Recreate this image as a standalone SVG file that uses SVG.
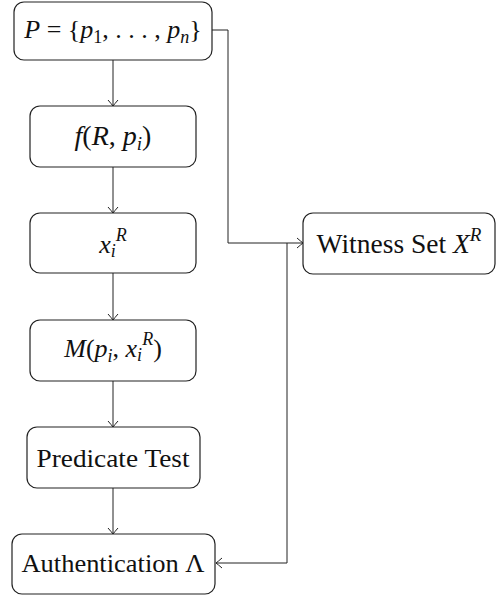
<svg xmlns="http://www.w3.org/2000/svg" width="497" height="598" viewBox="0 0 497 598">
<style>
.box{fill:#fff;stroke:#222;stroke-width:1.2}
.t{font-family:'Liberation Serif','DejaVu Serif',serif;font-size:26px;fill:#111;text-anchor:middle}
.i{font-style:italic}
.c{fill:none;stroke:#222;stroke-width:1}
</style>
<defs>
<marker id="ar" markerUnits="userSpaceOnUse" markerWidth="14" markerHeight="14" viewBox="-8 -7 10 14" refX="0" refY="0" orient="auto">
<path d="M-6,-5 Q-2,-1.5 0,0 Q-2,1.5 -6,5" fill="none" stroke="#222" stroke-width="1"/>
</marker>
</defs>
<g id="connectors">
<path class="c" d="M113,60 V106" marker-end="url(#ar)"/>
<path class="c" d="M113,167 V213" marker-end="url(#ar)"/>
<path class="c" d="M113,273 V320" marker-end="url(#ar)"/>
<path class="c" d="M113,381 V427" marker-end="url(#ar)"/>
<path class="c" d="M113,488 V534" marker-end="url(#ar)"/>
<path class="c" d="M212,30 H228 V243 H303" marker-end="url(#ar)"/>
<path class="c" d="M287,243 V563 H216" marker-end="url(#ar)"/>
</g>
<g id="nodeP">
<rect class="box" x="14" y="2" width="198" height="58" rx="10"/>
<text class="t" x="113" y="38"><tspan class="i">P</tspan> = {<tspan class="i">p</tspan><tspan font-size="18" dy="5">1</tspan><tspan dy="-5">, . . . , </tspan><tspan class="i">p</tspan><tspan class="i" font-size="18" dy="5">n</tspan><tspan dy="-5">}</tspan></text>
</g>
<g id="nodeF">
<rect class="box" x="30" y="106" width="166" height="61" rx="10"/>
<text class="t" x="113" y="145" font-size="28" style="font-size:28px"><tspan class="i">f</tspan>(<tspan class="i">R</tspan>, <tspan class="i">p</tspan><tspan class="i" font-size="19" style="font-size:19px" dy="5">i</tspan><tspan dy="-5">)</tspan></text>
</g>
<g id="nodeX">
<rect class="box" x="30" y="213" width="166" height="60" rx="10"/>
<text class="t" x="113" y="253"><tspan class="i">x</tspan><tspan class="i" font-size="18" dy="4">i</tspan><tspan class="i" font-size="18" dy="-16">R</tspan></text>
</g>
<g id="nodeM">
<rect class="box" x="30" y="320" width="166" height="61" rx="10"/>
<text class="t" x="113" y="357"><tspan class="i">M</tspan>(<tspan class="i">p</tspan><tspan class="i" font-size="18" dy="5">i</tspan><tspan dy="-5">, </tspan><tspan class="i">x</tspan><tspan class="i" font-size="18" dy="4">i</tspan><tspan class="i" font-size="18" dy="-16">R</tspan><tspan dy="12">)</tspan></text>
</g>
<g id="nodePred">
<rect class="box" x="27" y="427" width="173" height="61" rx="10"/>
<text class="t" x="113" y="467" textLength="153" lengthAdjust="spacingAndGlyphs">Predicate Test</text>
</g>
<g id="nodeAuth">
<rect class="box" x="12" y="534" width="203" height="60" rx="10"/>
<text class="t" x="113" y="572" textLength="183" lengthAdjust="spacingAndGlyphs">Authentication Λ</text>
</g>
<g id="nodeW">
<rect class="box" x="303" y="213" width="192" height="61" rx="10"/>
<text class="t" x="399" y="253" style="font-size:27.5px">Witness Set <tspan class="i">X</tspan><tspan class="i" style="font-size:19px" dy="-12">R</tspan></text>
</g>
</svg>
